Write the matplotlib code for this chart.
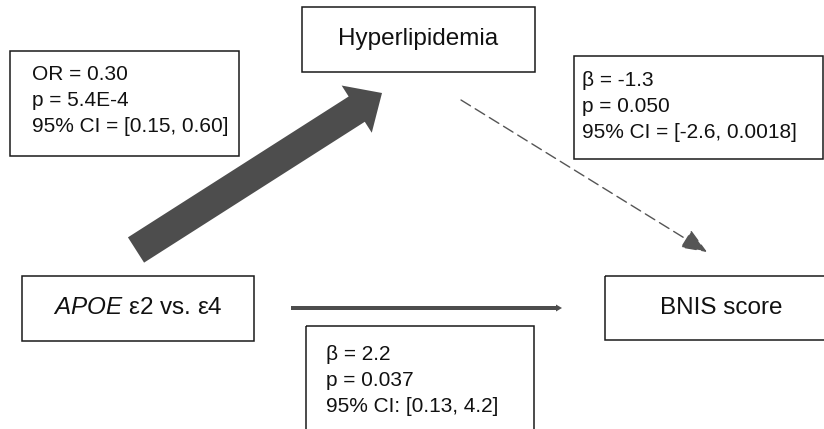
import matplotlib
matplotlib.use("Agg")
import matplotlib.pyplot as plt
from matplotlib.patches import Rectangle, FancyArrow

# fonts: Arial-like look
plt.rcParams['font.family'] = ['Liberation Sans', 'DejaVu Sans']
plt.rcParams['mathtext.fontset'] = 'custom'
plt.rcParams['mathtext.it'] = 'Liberation Sans:italic'
plt.rcParams['mathtext.rm'] = 'Liberation Sans'

# data: node labels and path statistics
node_labels = ["Hyperlipidemia", r"$\it{APOE}$ ε2 vs. ε4", "BNIS score"]
stats_a = ["OR = 0.30", "p = 5.4E-4", "95% CI = [0.15, 0.60]"]        # APOE -> hyperlipidemia
stats_b = ["β = -1.3", "p = 0.050", "95% CI = [-2.6, 0.0018]"]        # hyperlipidemia -> BNIS
stats_c = ["β = 2.2", "p = 0.037", "95% CI: [0.13, 4.2]"]             # APOE -> BNIS (direct)

# layout (pixel coordinates, y downwards)
node_boxes = [(302, 7, 535, 72), (22, 276, 254, 341), (605, 276, 838, 340)]
stat_boxes = [(10, 51, 239, 156), (574, 56, 823, 159), (306, 326, 534, 440)]
stat_text_x = [32, 582, 326]
stat_text_y = [75, 81, 354]
line_gap = 26

W, H = 824, 429
fig = plt.figure(figsize=(W / 100, H / 100), dpi=100)
ax = fig.add_axes([0, 0, 1, 1])
ax.set_xlim(0, W)
ax.set_ylim(H, 0)
ax.axis('off')

arrow_col = '#4d4d4d'

# node boxes
for (x0, y0, x1, y1), lab in zip(node_boxes, node_labels):
    ax.add_patch(Rectangle((x0, y0), x1 - x0, y1 - y0, fill=False, ec='#1a1a1a', lw=1.1))
    ax.text((x0 + x1) / 2, (y0 + y1) / 2, lab,
            ha='center', va='center', fontsize=17.5, color='#111111')

# statistic boxes
for (x0, y0, x1, y1), lines, tx, ty in zip(stat_boxes, [stats_a, stats_b, stats_c], stat_text_x, stat_text_y):
    ax.add_patch(Rectangle((x0, y0), x1 - x0, y1 - y0, fill=False, ec='#1a1a1a', lw=1.1))
    for i, s in enumerate(lines):
        ax.text(tx, ty + i * line_gap, s, ha='left', va='center', fontsize=15, color='#111111')

# thick arrow APOE -> Hyperlipidemia
tail = (136, 250)
tip = (382, 93)
ax.add_patch(FancyArrow(tail[0], tail[1], tip[0] - tail[0], tip[1] - tail[1],
                        width=30, head_width=56, head_length=30,
                        length_includes_head=True, color=arrow_col, lw=0))

# direct arrow APOE -> BNIS
ax.add_patch(FancyArrow(291, 308, 562 - 291, 0, width=4, head_width=7, head_length=6,
                        length_includes_head=True, color=arrow_col, lw=0))

# dashed arrow Hyperlipidemia -> BNIS
ax.annotate('', xy=(707, 252), xytext=(461, 100),
            arrowprops=dict(arrowstyle='-|>,head_length=1.6,head_width=0.65',
                            linestyle=(0, (8, 4)), color='#555555', lw=1.0,
                            shrinkA=0, shrinkB=0))

fig.savefig('out.png', dpi=100)
